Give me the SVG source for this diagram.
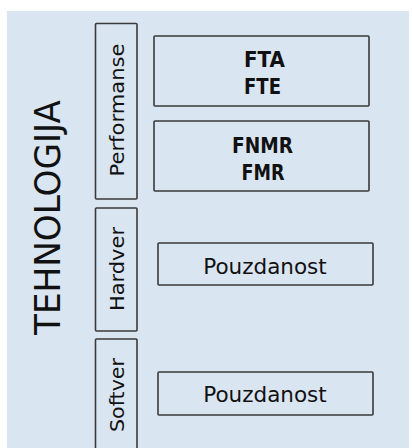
<svg xmlns="http://www.w3.org/2000/svg" width="412" height="448" viewBox="0 0 412 448">
<style>
.box{fill:none;stroke:#3a3a3a;stroke-width:1.6}
.t{font-family:"DejaVu Sans",sans-serif;fill:#111}
.side{font-size:19.5px;text-anchor:middle}
.lbl{font-size:21.5px;text-anchor:middle}
.bold{font-size:20.5px;font-weight:bold;text-anchor:middle}
</style>
<rect x="0" y="0" width="412" height="448" fill="#ffffff"/>
<rect id="panel" x="7" y="11" width="402" height="440" fill="#dae5f2"/>
<g id="title"><text class="t" x="60" y="217.5" font-size="35" text-anchor="middle" textLength="235" lengthAdjust="spacingAndGlyphs" transform="rotate(-90 60 217.5)">TEHNOLOGIJA</text></g>
<g id="performanse"><rect class="box" x="95.5" y="23.5" width="41.5" height="175.5" rx="1"/><text class="t side" x="124" y="110" textLength="133" lengthAdjust="spacingAndGlyphs" transform="rotate(-90 124 110)">Performanse</text></g>
<g id="hardver"><rect class="box" x="95.5" y="208" width="41.5" height="123" rx="1"/><text class="t side" x="124" y="269" textLength="84" lengthAdjust="spacingAndGlyphs" transform="rotate(-90 124 269)">Hardver</text></g>
<g id="softver"><rect class="box" x="95.5" y="339" width="41.5" height="125" rx="1"/><text class="t side" x="124" y="395" textLength="74" lengthAdjust="spacingAndGlyphs" transform="rotate(-90 124 395)">Softver</text></g>
<g id="fta"><rect class="box" x="154" y="36" width="215" height="70" rx="1"/><text class="t bold" x="264.5" y="67" textLength="41" lengthAdjust="spacingAndGlyphs">FTA</text><text class="t bold" x="262.5" y="94" textLength="37" lengthAdjust="spacingAndGlyphs">FTE</text></g>
<g id="fnmr"><rect class="box" x="154" y="121" width="215" height="70" rx="1"/><text class="t bold" x="262.5" y="153" textLength="61" lengthAdjust="spacingAndGlyphs">FNMR</text><text class="t bold" x="263" y="180" textLength="43" lengthAdjust="spacingAndGlyphs">FMR</text></g>
<g id="pouzdanost1"><rect class="box" x="158" y="243" width="215" height="42" rx="1"/><text class="t lbl" x="265" y="274">Pouzdanost</text></g>
<g id="pouzdanost2"><rect class="box" x="158" y="372" width="215" height="43" rx="1"/><text class="t lbl" x="265" y="402">Pouzdanost</text></g>
<g id="connectors"></g>
</svg>
